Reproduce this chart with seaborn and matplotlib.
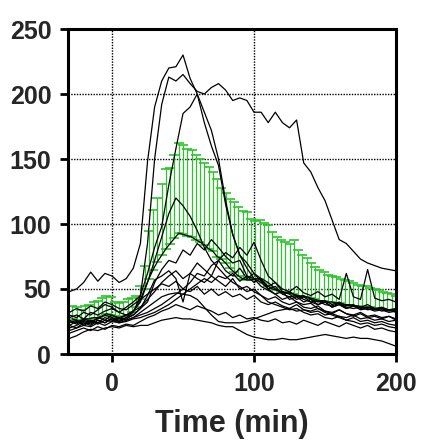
import numpy as np
import pandas as pd
import matplotlib
matplotlib.use("Agg")
import matplotlib.pyplot as plt
import seaborn as sns

# ---------------- data ----------------
# individual traces, sampled every 5 min from -30 to 200
trace_time = list(range(-30, 201, 5))

trace_a = [48, 50, 55, 63, 56, 62, 60, 55, 58, 66, 85, 148, 190, 210, 220, 221, 230, 212, 200, 186, 172, 150, 118, 92,
           76, 66, 58, 52, 49, 46, 42, 44, 40, 38, 39, 35, 33, 31, 34, 31, 29, 31, 28, 29, 27, 29, 26]
trace_b = [28, 30, 27, 32, 30, 33, 35, 32, 36, 40, 45, 85, 150, 192, 213, 210, 215, 208, 202, 200, 205, 208, 203, 195,
           197, 195, 186, 186, 178, 186, 178, 174, 180, 147, 140, 128, 118, 103, 88, 85, 79, 73, 70, 68, 66, 65, 64]
trace_c = [22, 20, 24, 22, 26, 24, 27, 25, 28, 32, 45, 62, 82, 98, 130, 158, 185, 190, 200, 178, 160, 145, 115, 92,
           76, 70, 62, 58, 55, 50, 47, 48, 44, 45, 42, 40, 41, 38, 40, 37, 38, 35, 36, 34, 35, 33, 34]
trace_d = [25, 23, 26, 24, 28, 26, 30, 27, 30, 33, 40, 55, 72, 90, 108, 120, 114, 106, 95, 82, 72, 66, 60, 55,
           52, 48, 50, 45, 42, 44, 40, 38, 40, 36, 35, 37, 33, 32, 34, 31, 30, 32, 29, 30, 28, 29, 27]
trace_e = [20, 22, 25, 23, 26, 24, 28, 25, 27, 30, 35, 40, 55, 65, 72, 70, 80, 76, 85, 80, 88, 82, 75, 70,
           72, 60, 58, 55, 50, 52, 46, 44, 45, 42, 40, 41, 38, 37, 39, 36, 35, 36, 34, 35, 33, 34, 32]
trace_f = [30, 28, 32, 30, 34, 38, 36, 32, 30, 33, 36, 42, 48, 55, 60, 64, 58, 62, 70, 65, 60, 72, 64, 60,
           66, 58, 62, 56, 52, 55, 50, 48, 52, 47, 45, 48, 44, 46, 42, 62, 44, 42, 65, 43, 41, 42, 40]
trace_g = [24, 26, 22, 25, 27, 30, 28, 26, 28, 30, 35, 45, 57, 60, 64, 58, 40, 62, 58, 55, 60, 56, 52, 58,
           50, 52, 48, 45, 40, 38, 36, 34, 35, 32, 30, 31, 28, 27, 29, 26, 28, 25, 26, 24, 25, 23, 22]
trace_h = [26, 24, 27, 25, 23, 26, 25, 28, 26, 28, 30, 32, 35, 38, 42, 46, 50, 55, 62, 60, 68, 72, 78, 74,
           82, 76, 86, 72, 60, 55, 48, 46, 42, 44, 40, 38, 40, 36, 38, 35, 37, 34, 35, 33, 34, 32, 33]
trace_i = [12, 14, 17, 19, 18, 20, 21, 20, 22, 21, 22, 22, 24, 26, 27, 28, 27, 27, 26, 25, 24, 22, 21, 21,
           18, 15, 13, 12, 11, 11, 12, 11, 11, 12, 13, 14, 15, 14, 13, 12, 13, 12, 12, 11, 10, 8, 6]
trace_j = [18, 20, 22, 21, 24, 22, 25, 24, 26, 28, 32, 36, 40, 44, 46, 47, 46, 45, 42, 36, 30, 25, 24, 24,
           24, 25, 27, 29, 31, 33, 34, 35, 33, 34, 32, 33, 30, 31, 29, 28, 30, 27, 28, 26, 27, 25, 26]
trace_k = [32, 35, 33, 37, 35, 40, 38, 35, 34, 38, 42, 46, 50, 54, 52, 56, 50, 48, 52, 46, 50, 45, 48, 44,
           46, 42, 45, 40, 38, 40, 37, 35, 38, 34, 33, 35, 32, 30, 28, 26, 25, 23, 24, 22, 23, 21, 20]
trace_l = [22, 25, 23, 26, 24, 28, 26, 24, 25, 27, 28, 30, 32, 35, 38, 42, 46, 50, 54, 58, 55, 60, 58, 62,
           56, 60, 55, 58, 50, 46, 48, 42, 44, 40, 42, 38, 40, 36, 38, 35, 37, 36, 38, 35, 36, 34, 35]
trace_m = [16, 18, 20, 18, 21, 19, 22, 21, 23, 22, 25, 28, 30, 33, 35, 38, 36, 34, 37, 35, 33, 30, 32, 28,
           30, 27, 28, 26, 25, 27, 24, 25, 23, 26, 24, 22, 25, 23, 21, 24, 22, 20, 22, 19, 20, 18, 17]

traces = {"A": trace_a, "B": trace_b, "C": trace_c, "D": trace_d, "E": trace_e, "F": trace_f,
          "G": trace_g, "H": trace_h, "I": trace_i, "J": trace_j, "K": trace_k, "L": trace_l, "M": trace_m}

# group mean and mean + SD, sampled every 3 min from -28 to 200
mean_time = list(range(-28, 201, 3))
mean_vals = [27, 26, 25, 27, 27, 28, 28, 29, 31, 30, 29, 28, 29, 30, 32, 36, 42, 50, 58, 65,
             71, 76, 81, 85, 89, 93, 92, 91, 90, 88, 86, 84, 81, 79, 75, 73, 70, 66, 63, 60,
             58, 57, 57, 58, 58, 55, 52, 50, 49, 48, 47, 47, 46, 45, 44, 44, 43, 42, 41, 41,
             40, 40, 39, 39, 38, 38, 37, 37, 36, 36, 36, 35, 35, 35, 34, 34, 34]
upper_vals = [37, 36, 34, 37, 38, 40, 41, 43, 45, 44, 40, 39, 40, 42, 43, 45, 52, 68, 95, 111,
              120, 131, 142, 143, 153, 162, 161, 158, 157, 153, 150, 147, 144, 140, 135, 128, 124, 119, 117, 113,
              110, 109, 104, 102, 103, 101, 99, 94, 90, 88, 86, 85, 88, 80, 76, 74, 70, 67, 65, 63,
              61, 60, 59, 58, 57, 56, 55, 53, 52, 52, 51, 50, 49, 48, 47, 46, 45]

for k, v in traces.items():
    assert len(v) == len(trace_time), (k, len(v))
assert len(mean_vals) == len(mean_time), len(mean_vals)
assert len(upper_vals) == len(mean_time), len(upper_vals)

rows = []
for k, v in traces.items():
    for t, y in zip(trace_time, v):
        rows.append({"time": t, "value": y, "trace": k})
for t, y in zip(mean_time, mean_vals):
    rows.append({"time": t, "value": y, "trace": "mean"})
df = pd.DataFrame(rows)

# ---------------- figure ----------------
sns.set_style("white")
plt.rcParams["font.family"] = ["Liberation Sans", "DejaVu Sans"]
plt.rcParams["font.weight"] = "bold"

fig = plt.figure(figsize=(4.31, 4.44), dpi=100)
ax = fig.add_axes([68 / 431, 1 - 354 / 444, (396 - 68) / 431, (354 - 29) / 444])

# dotted grid
for gx in [0, 100]:
    ax.axvline(gx, color="black", lw=1.0, ls=(0, (1, 1)), zorder=0)
for gy in [50, 100, 150, 200]:
    ax.axhline(gy, color="black", lw=1.0, ls=(0, (1, 1)), zorder=0)

# green SD bars (upward only)
m = np.array(mean_vals, dtype=float)
u = np.array(upper_vals, dtype=float)
ax.errorbar(mean_time, m, yerr=[np.zeros_like(m), u - m], fmt="none",
            ecolor="#2bc42b", elinewidth=0.9, capsize=3.5, capthick=1.2, zorder=1)

# traces
sns.lineplot(data=df, x="time", y="value", units="trace", estimator=None,
             color="black", lw=0.9, ax=ax, zorder=2, legend=False)

ax.set_xlim(-31, 200)
ax.set_ylim(0, 250)
ax.set_xticks([0, 100, 200])
ax.set_yticks([0, 50, 100, 150, 200, 250])
ax.set_xlabel("Time (min)", fontsize=22, fontweight="bold", labelpad=9)
ax.set_ylabel("")

for s in ax.spines.values():
    s.set_visible(True)
    s.set_color("black")
    s.set_linewidth(2.2)

ax.tick_params(axis="both", which="major", direction="out", length=6, width=2.0,
               color="black", labelsize=18, bottom=True, left=True)
ax.tick_params(axis="x", pad=7)
ax.tick_params(axis="y", pad=6)
for lab in ax.get_xticklabels() + ax.get_yticklabels():
    lab.set_fontweight("bold")

fig.savefig("out.png", dpi=100)
